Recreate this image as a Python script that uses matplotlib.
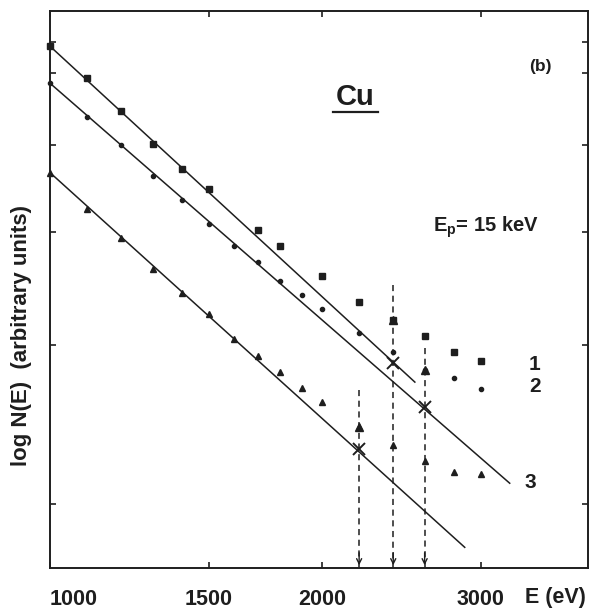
import matplotlib.pyplot as plt
import numpy as np

plt.rcParams['font.family'] = ['Liberation Sans', 'DejaVu Sans']
plt.rcParams['font.weight'] = 'bold'
plt.rcParams['mathtext.fontset'] = 'custom'
plt.rcParams['mathtext.bf'] = 'Liberation Sans:bold'
plt.rcParams['mathtext.rm'] = 'Liberation Sans:bold'

ink = '#1e1e1e'

# spectra, log N(E) in decades (arbitrary origin)
E1 = [1000, 1100, 1200, 1300, 1400, 1500, 1700, 1800, 2000, 2200, 2400, 2600, 2800, 3000]
N1 = [0.507, 0.472, 0.435, 0.399, 0.371, 0.349, 0.303, 0.286, 0.252, 0.224, 0.204, 0.186, 0.168, 0.158]

E2 = [1000, 1100, 1200, 1300, 1400, 1500, 1600, 1700, 1800, 1900, 2000, 2200, 2400, 2600, 2800, 3000]
N2 = [0.466, 0.429, 0.398, 0.363, 0.337, 0.310, 0.286, 0.268, 0.247, 0.231, 0.216, 0.189, 0.168, 0.148, 0.140, 0.127]

E3 = [1000, 1100, 1200, 1300, 1400, 1500, 1600, 1700, 1800, 1900, 2000, 2200, 2400, 2600, 2800, 3000]
N3 = [0.367, 0.327, 0.295, 0.260, 0.234, 0.210, 0.183, 0.164, 0.146, 0.128, 0.113, 0.085, 0.065, 0.048, 0.035, 0.033]

# straight-line fits
fit1_E = [1000, 2536]
fit1_N = [0.507, 0.135]
fit2_E = [1000, 3230]
fit2_N = [0.466, 0.023]
fit3_E = [1000, 2880]
fit3_N = [0.367, -0.048]

# marked energies (dashed arrows)
peak_E = [2200, 2400, 2600]
peak_top = [0.126, 0.243, 0.173]
peak_point = [0.085, 0.204, 0.148]
peak_fit = [0.061, 0.156, 0.107]

xticks = [1000, 1500, 2000, 3000]
yticks = [0, 0.176, 0.301, 0.398, 0.477, 0.512]
ymin, ymax = -0.0709, 0.546

fig = plt.figure(figsize=(5.94, 6.14), dpi=100)
ax = fig.add_axes([50 / 594, 46 / 614, 538 / 594, 557 / 614])
ax.set_xscale('log')

for fe, fn in [(fit1_E, fit1_N), (fit2_E, fit2_N), (fit3_E, fit3_N)]:
    ax.plot(fe, fn, color=ink, lw=1.1)

ax.plot(E1, N1, 's', color=ink, ms=4, clip_on=False)
ax.plot(E2, N2, 'o', color=ink, ms=3, clip_on=False)
ax.plot(E3, N3, '^', color=ink, ms=4.8, clip_on=False)

for e, top, pt, ft in zip(peak_E, peak_top, peak_point, peak_fit):
    ax.plot([e, e], [top, ymin], ls=(0, (4, 3)), color=ink, lw=1.1)
    ax.plot(e, pt, '^', color=ink, ms=6)
    ax.plot(e, ft, 'x', color=ink, ms=8, mew=1.4)
    ax.annotate('', xy=(e, ymin), xytext=(e, ymin + 0.02),
                arrowprops=dict(arrowstyle='->', color=ink, lw=1.0, mutation_scale=9))

ax.set_xlim(1000, 3944)
ax.set_ylim(ymin, ymax)
ax.set_xticks(xticks)
ax.set_xticklabels([str(v) for v in xticks])
ax.xaxis.set_minor_locator(plt.NullLocator())
ax.set_yticks(yticks)
ax.set_yticklabels([])
ax.tick_params(direction='in', length=4, width=1.2, top=True, right=True,
               labelsize=15.5, pad=15, colors=ink)
ax.get_xticklabels()[0].set_ha('left')
for s in ax.spines.values():
    s.set_linewidth(1.4)
    s.set_color(ink)

ax.set_ylabel('log N(E)  (arbitrary units)', fontsize=16, fontweight='bold',
              color=ink)
ax.yaxis.set_label_coords(-18 / 538, (568 - 335) / 557)

ax.text(0.94, -30 / 557, 'E (eV)', transform=ax.transAxes, fontsize=15.5,
        ha='center', va='center', color=ink)
ax.text((355 - 50) / 538, (568 - 97) / 557, 'Cu', transform=ax.transAxes,
        fontsize=21, ha='center', va='center', color=ink)
ax.plot([(333 - 50) / 538, (378 - 50) / 538], [(568 - 112) / 557] * 2,
        transform=ax.transAxes, color=ink, lw=1.6)
ax.text((540 - 50) / 538, (568 - 67) / 557, '(b)', transform=ax.transAxes,
        fontsize=12.5, ha='center', va='center', color=ink)
ax.text((433 - 50) / 538, (568 - 227) / 557, r'$\mathbf{E_p}$= 15 keV',
        transform=ax.transAxes, fontsize=14.5, ha='left', va='center', color=ink)
for lab, px, py in [('1', 535, 364), ('2', 535, 387), ('3', 530, 483)]:
    ax.text((px - 50) / 538, (568 - py) / 557, lab, transform=ax.transAxes,
            fontsize=15, ha='center', va='center', color=ink)

fig.savefig('out.png', dpi=100)
